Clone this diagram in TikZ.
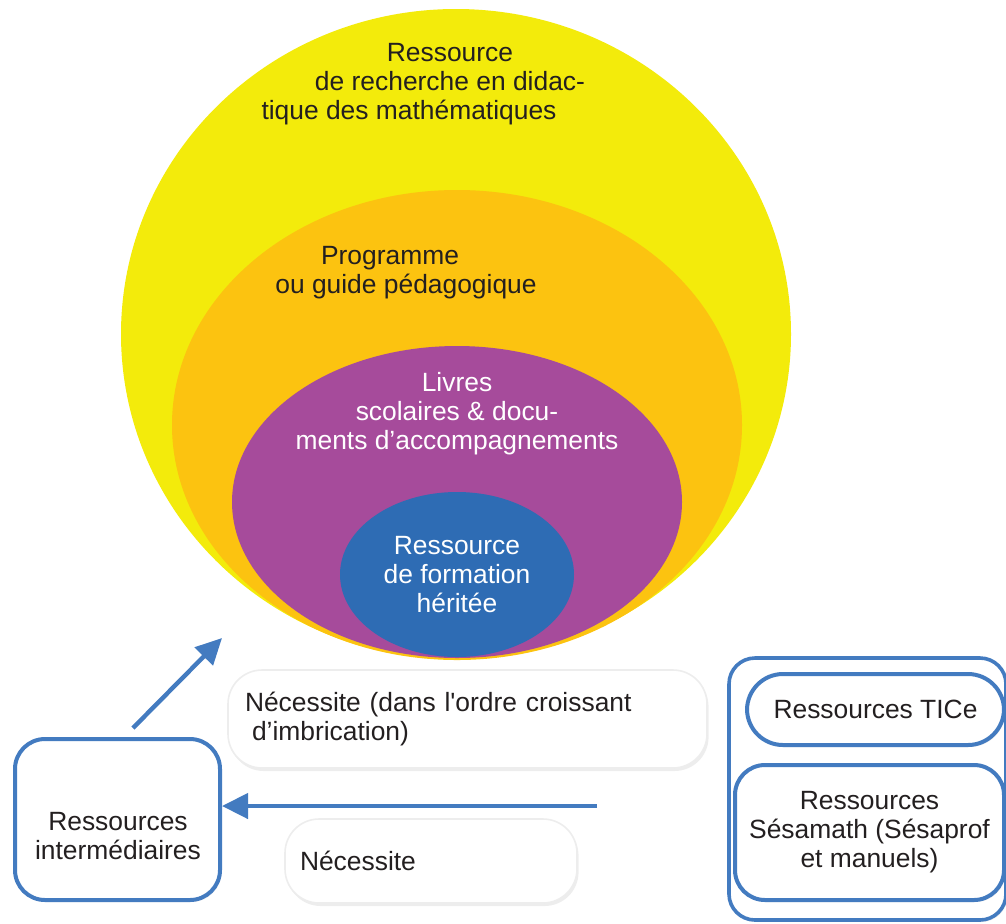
\documentclass[tikz,border=0pt]{standalone}
\usepackage{fontspec}
\setmainfont{Liberation Sans}[Ligatures=TeXOff]
\usetikzlibrary{positioning,arrows.meta,shapes.geometric,shadows}
\definecolor{ink}{HTML}{231F20}
\definecolor{lemon}{HTML}{F3EB0B}
\definecolor{amber}{HTML}{FCC310}
\definecolor{plum}{HTML}{A64B9B}
\definecolor{cobalt}{HTML}{2E6CB4}
\definecolor{frame}{HTML}{437BC0}

\begin{document}
\begin{tikzpicture}[
  x=0.5pt, y=-0.5pt,
  font=\fontsize{13.2}{14.5}\selectfont,
  text=ink,
  ring/.style={ellipse, inner sep=0pt},
  inlay/.style={align=center},
  note/.style={fill=white, draw=black!7, line width=0.8pt,
               rounded corners=17pt, align=left, inner ysep=0pt,
               drop shadow={shadow xshift=0.8pt, shadow yshift=-1.5pt,
                            opacity=0.14}},
  res/.style={draw=frame, fill=white, line width=2pt, align=center,
              inner sep=0pt,
              drop shadow={shadow xshift=0.8pt, shadow yshift=-1pt,
                           opacity=0.12}},
  flow/.style={-{Triangle[length=13pt,width=12.5pt]}, line width=2.2pt,
               draw=frame},
]
\useasboundingbox (0,0) rectangle (1006,923);

% nested resources
\node[ring, fill=lemon, minimum width=335pt, minimum height=325pt]
  (didac) at (456,334) {};
\node[ring, fill=amber, minimum width=285pt, minimum height=235pt]
  (prog) at (457,425) {};
\node[ring, fill=plum, minimum width=225pt, minimum height=156pt]
  (livres) at (457,502) {};
\node[ring, fill=cobalt, minimum width=117pt, minimum height=82.5pt]
  (forma) at (457,574.5) {};

\node[inlay] (didactxt) at (450,84)
  {Ressource\\ de recherche en didac-\hspace*{5pt}\\
   tique des mathématiques\hspace*{41pt}};
\node[inlay] (progtxt) at (398,273)
  {Programme\hspace*{8pt}\\ \hspace*{8pt}ou guide pédagogique};
\node[inlay, text=white] (livrestxt) at (457,414)
  {Livres\\ scolaires \& docu-\\ ments d’accompagnements};
\node[inlay, text=white] (formatxt) at (457,575)
  {Ressource\\ de formation\\ héritée};

% notes
\node[note, text width=222.5pt, inner xsep=8.5pt, minimum height=49pt]
  (ordre) at (467.5,719)
  {Nécessite (dans l'ordre croissant\\ \hspace*{3.5pt}d’imbrication)};
\node[note, text width=131pt, inner xsep=7.5pt, minimum height=42pt]
  (nec) at (431,861) {Nécessite};

% resource boxes
\node[res, rounded corners=15pt, minimum width=102.5pt, minimum height=80.5pt]
  (inter) at (117.5,819.5) {};
\node[inlay] (intertxt) at (118,836) {Ressources\\ intermédiaires};

\node[res, rounded corners=13pt, line width=1.8pt,
      minimum width=138.5pt, minimum height=131pt]
  (group) at (867.5,789) {};
\node[res, rounded corners=18pt, minimum width=128.5pt, minimum height=35.5pt]
  (tice) at (875.5,709.5) {Ressources TICe};
\node[res, rounded corners=15pt, minimum width=134.5pt, minimum height=67.5pt]
  (sesa) at (869.5,832.5) {Ressources\\ Sésamath (Sésaprof\\ et manuels)};

% arrows
\coordinate (up) at (222,638);
\coordinate (src) at (597,806);
\draw[flow] ([xshift=7.75pt,yshift=4.5pt]inter.north) -- (up);
\draw[flow] (src) -- (src -| inter.east);

\end{tikzpicture}
\end{document}
